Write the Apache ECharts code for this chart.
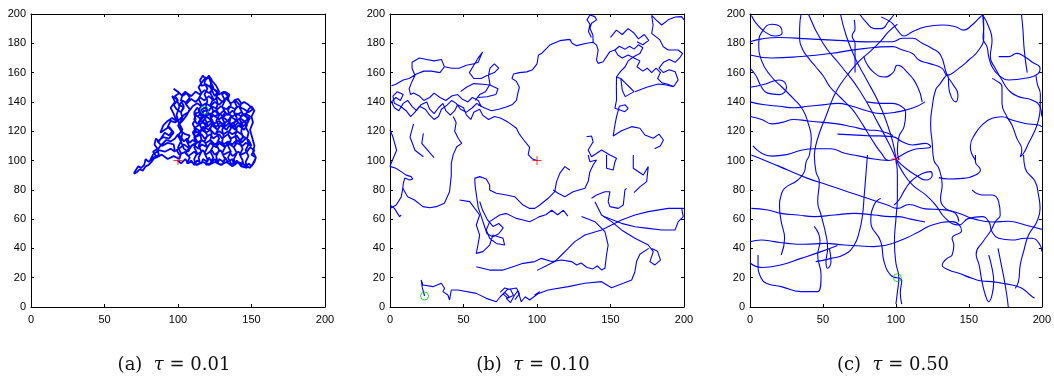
<!DOCTYPE html>
<html>
<head>
<meta charset="utf-8">
<script src="https://cdn.jsdelivr.net/npm/echarts@6/dist/echarts.min.js"></script>
<style>
html, body { margin: 0; padding: 0; background: #fff; }
#chart { width: 1054px; height: 377px; }
</style>
</head>
<body>
<div id="chart"></div>
<script>
// Axis ticks shared by the three panels
const xTicks = [0, 50, 100, 150, 200];
const yTicks = [0, 20, 40, 60, 80, 100, 120, 140, 160, 180, 200];

// Panel captions
const panelTags = ['(a)', '(b)', '(c)'];
const tauValues = ['0.01', '0.10', '0.50'];

// Start (+) and end (o) of each trajectory
const startPoints = [[100, 100], [100, 100], [100, 101]];
const endPoints = [[118, 134.5], [23.5, 7.5], [101, 20]];

// (a) tau = 0.01 : one tight, heavily tangled walk
const walkA = [
  [100,100],[102,98],[105,101],[107,98],[109,100],[111,97],[113,100],[116,98],[117,101],[120,99],[121,102],[123,99],[125,101],[127,98],[128,101],[131,99],[132,102],[134,99],[137,101],[138,97],[140,100],[143,96],[144,99],[146,95],[148,98],[150,96],[152,99],[153,102],[150,104],[152,107],[149,109],[147,106],[143,104],[141,106],[137,103],[135,106],[131,104],[129,107],[125,104],[123,107],[119,104],[117,107],[113,104],[111,106],[107,103],[105,106],[101,104],[99,107],[102,109],[104,111],[108,108],[110,111],[114,108],[116,111],[120,109],[122,112],[126,109],[128,112],[132,109],[134,112],[138,109],[140,112],[144,110],[146,112],[150,110],[148,114],[145,116],[142,114],[140,117],[136,115],[134,118],[130,115],[128,118],[124,115],[122,118],[118,115],[116,118],[112,116],[110,119],[112,122],[115,120],[117,123],[121,121],[123,124],[127,121],[129,124],[133,121],[135,124],[139,121],[141,124],[145,121],[147,124],[145,127],[142,129],[140,127],[136,130],[134,127],[130,130],[128,128],[124,131],[122,128],[118,131],[116,128],[112,131],[111,128],[113,125],[116,127],[118,125],[122,127],[124,125],[128,127],[130,125],[134,127],[136,125],[140,127],[142,125],[146,127],[149,130],[146,132],[143,130],[140,132],[137,130],[134,132],[131,130],[128,132],[125,130],[122,132],[119,130],[116,132],[113,130],[111,133],[113,136],[115,134],[118,136],[121,134],[123,137],[127,135],[129,137],[133,135],[135,137],[139,135],[141,137],[145,135],[148,133],[151,135],[148,138],[145,140],[142,138],[139,141],[136,139],[133,142],[130,140],[127,143],[124,141],[121,144],[118,141],[115,143],[112,140],[109,142],[106,139],[103,141],[101,138],[104,136],[102,133],[99,135],[97,138],[100,141],[98,144],[101,146],[97,149],[100,147],[103,144],[106,146],[109,144],[112,147],[115,145],[118,148],[121,146],[124,149],[127,147],[125,144],[122,150],[119,152],[116,151],[115,155],[117,158],[119,155],[121,158],[123,155],[122,151],[125,148],[128,145],[131,147],[134,144],[131,141],[128,138],[125,140],[122,137],[119,139],[116,137],[113,139],[110,137],[107,133],[104,131],[101,128],[98,126],[95,127],[93,123],[96,120],[94,117],[91,119],[89,116],[87,113],[85,115],[84,111],[86,108],[83,106],[85,103],[82,101],[80,99],[78,101],[77,97],[75,95],[73,96],[71,93],[70,91],[72,92],[74,94],[76,93],[78,96],[80,97],[82,99],[84,102],[87,104],[86,107],[88,110],[90,112],[92,114],[95,113],[98,115],[100,118],[102,116],[104,113],[106,115],[108,112],[110,114],[113,112],[116,114],[119,112],[122,114],[125,111],[128,113],[131,111],[134,113],[137,111],[140,114],[143,112],[146,115],[143,118],[140,120],[137,118],[134,120],[131,118],[128,120],[125,118],[122,121],[119,119],[116,121],[113,119],[111,122],[114,124],[117,126],[120,123],[123,126],[126,123],[129,126],[132,123],[135,126],[138,123],[141,126],[144,123],[147,126],[149,129],[146,130],[143,133],[140,131],[137,134],[134,131],[131,134],[128,131],[125,134],[122,131],[119,134],
  [111,132],[112,128],[110,125],[112,121],[111,117],[113,113],[111,109],[113,105],[111,101],[112,97],
  [115,98],[114,102],[116,106],[114,110],[116,114],[115,118],[116,122],[114,126],[116,130],[114,134],[116,138],[114,142],[116,146],[114,150],[116,153],
  [119,157],[118,153],[120,149],[118,145],[120,141],[119,137],[120,133],[118,129],[120,125],[118,121],[120,117],[118,113],[120,109],[118,105],[120,101],[119,97],
  [122,98],[124,102],[122,106],[124,110],[122,114],[123,118],[122,122],[124,126],[122,130],[124,134],[122,138],[124,142],[122,146],[124,150],[122,154],[121,157],
  [126,151],[128,147],[126,143],[127,139],[126,135],[128,131],[126,127],[128,123],[126,119],[128,115],[126,111],[128,107],[126,103],[127,98],
  [130,97],[132,101],[130,105],[132,109],[130,113],[131,117],[130,121],[132,125],[130,129],[132,133],[130,137],[132,141],[130,145],[132,147],
  [135,145],[134,142],[136,138],[134,134],[136,130],[135,126],[136,122],[134,118],[136,114],[134,110],[136,106],[134,102],[136,98],
  [139,97],[138,101],[140,105],[138,109],[140,113],[139,117],[140,121],[138,125],[140,129],[138,133],[140,137],[138,141],[141,142],
  [143,139],[142,136],[144,132],[142,128],[144,124],[143,120],[144,116],[142,112],[144,108],[142,104],[144,100],[143,96],
  [147,95],[146,99],[148,103],[146,107],[148,111],[147,115],[148,119],[146,123],[148,127],[146,131],[148,135],[150,137],
  [152,134],[150,130],[151,126],[149,121],[152,110],[151,106],[153,102],[151,98],[149,95],
  [145,97],[141,99],[137,96],[133,99],[129,97],[125,99],[121,97],[117,99],[113,97],[109,99],[106,98],
  [108,102],[105,105],[108,109],[106,113],[108,117],[105,118],[102,120],[100,124],[103,127],
  [106,131],[108,135],[105,139],[108,143],[105,147],[103,145],[102,141],[104,137],[102,133],[103,129],[101,125],[103,121],[100,117],[102,113],[100,109],[102,105],[101,101],
  [97,103],[93,101],[89,104],[85,102],[81,100],[83,104],[87,107],[91,106],[95,108],[98,106],[97,111],[93,112],[89,110],[86,113],[90,116],[94,115],[97,119],[94,123],[91,121],[88,119],[90,124],[93,127],[96,129],[99,127],[97,132],[95,136],[98,140],[96,144],[99,142],[101,137],[99,131],[101,124],[103,119],[102,113],[104,108],
  [107,106],[109,110],[112,112],[111,116],[114,118],[116,121],[119,123],[117,127],[119,129],[116,131],[118,134.5]
];

// (b) tau = 0.10 : wandering walk, drawn as consecutive pieces
const walkB = [
  [[100,100],[97,101],[94,104],[95,109],[91,114],[88,118],[86,122],[82,125],[79,127],[75,129],[71,130],[67,128],[63,131],[61,135],[57,133],[55,128],[52,131],[50,136],[46,138],[44,134],[41,131],[38,134],[36,139],[33,136],[30,132],[27,135],[25,140],[21,138],[18,134],[15,137],[12,141],[9,139],[6,134],[3,136],[1,140],[4,143],[7,141],[9,145],[5,147],[2,144],[3,139],[7,137],[11,134],[14,130],[17,133],[20,137],[24,135],[27,131],[30,128],[33,130],[35,135],[39,138],[42,141],[45,139],[48,135],[52,133],[56,136],[59,139],[62,137],[60,141],[56,143],[53,140],[49,142],[46,145],[42,144],[38,141],[34,143],[30,146],[27,143],[23,141],[20,144],[16,146],[14,145],[13,149],[15,154],[17,158],[15,163],[15,167],[20,170],[25,169],[30,168],[35,169],[37,164],[34,160],[28,161],[23,161],[18,159],[13,156],[9,155],[4,152],[1,151]],
  [[37,164],[42,163],[47,163],[52,165],[57,166],[60,167],[62,172],[63,174],[60,170],[57,165],[54,160],[57,156],[62,156],[66,158],[71,160],[74,163],[71,166],[68,163],[67,158],[68,152],[65,147],[61,145],[58,141]],
  [[101,172],[100,166],[97,162],[93,160.5],[88,160],[84,159],[83,156],[86,154],[88,150],[87,146],[86,141],[83,138],[79,136.5],[74,135],[69,134],[64,136],[60,138]],
  [[48,147],[52,150],[57,152.5],[63,152],[68,151.5],[73.5,149],[72,145],[66,143.5],[60,143]],
  [[0,121],[2,116],[4.5,107],[2,101],[0,96],[4,94.7],[7.6,92.4],[11,90],[14.4,89],[15.5,87.4],[13.3,86.7],[10,88],[9,84],[8.7,81],[7.6,75],[4.2,69.6],[0,67.3]],
  [[16,125],[13.6,116],[17,107],[22.7,102.6]],
  [[22.7,118.5],[21.6,111.7],[27.3,105],[30,102]],
  [[0,69.6],[3,67.3],[6.5,61.7],[7.6,62.8]],
  [[8.7,81],[12,75.3],[16.7,73],[22.4,68.5],[27,67.8],[31.4,68.5],[37,70.8],[40.5,78.7],[41.7,90],[41.7,98],[43,104],[45.4,109.4],[48.8,111.7],[46.5,115],[44,120],[45,126],[43,130]],
  [[101,172],[103,173],[108.7,178.8],[115.5,181.8],[122.3,182.7],[123.9,180],[126.9,178.4],[133.7,180],[138.2,180.7],[140.5,178.8],[141.6,175.4],[140.5,168.6],[141.6,166.3],[145,167.4],[147.3,170.9],[149.6,174.3],[153,175.4],[155,172],[158,170],[162,172],[166,170],[170,168],[168,164],[172,161],[175,163],[178,160],[181,163],[184,160],[182,156],[185,153],[189,152],[193,150.5],[196,155],[194,160.6],[190,162],[186,160],[183,163],[186,167],[190,169],[194,167],[197,170],[199,173],[196,175.4],[193.9,175.4],[189.3,175.4],[185.9,177.7],[183.6,182.3],[178,186.8],[179,192.5],[178,199],[181,196],[184.8,192.5],[189.3,196],[194,198],[198.4,198.2],[200,196]],
  [[138.2,180.7],[138,185.7],[136,190.3],[137.1,193.7],[140.5,196],[139.4,198.2],[136,199.3],[134,196],[136,193],[135,188],[137,184]],
  [[153,175.4],[156,178],[160,176],[163,178],[166,176],[169,179],[172,177],[170,173],[166,171],[162,168],[160,164],[157,161],[154,157],[157,156],[160,153],[163,150],[166,147],[160,143.6],[158,148],[157,156]],
  [[150,184],[154,189],[158,186],[162,190],[166,187],[169,183],[173,186],[176,182],[172,179],[168,181]],
  [[154.1,157.2],[154,150],[154.1,141.3],[153,135.6],[156.4,134.5],[159.8,133.3],[162,135.6],[160,138],[156,137],[154.1,130],[153,124.2],[151.8,116.7],[157.5,120.3],[164.4,123.1],[170,122],[173.4,117.4],[179.1,115.2],[183,118],[186,114],[184,110],[180,108]],
  [[166.6,147],[174.6,150],[182.5,152.2],[188.2,151.5],[192.7,150.4]],
  [[133.7,116.2],[137.1,116.7],[138.2,112.8],[134.8,107.2],[137.1,102.6],[143.9,107.2],[149.6,103.8],[154.1,101.5],[153,99],[151.8,93.5],[147.3,94.7],[147.3,103.75]],
  [[134.8,103.75],[136,99.2],[140.5,100.3],[138.2,96.9],[136,92.4],[134.8,85.6],[132.6,81],[124.6,78.7],[118.9,75.3],[114.4,77.6],[111,79.9]],
  [[122.3,93.5],[118.9,95.8],[115.5,91.2],[113.3,85.6],[112.1,78.7],[107.6,74.2],[101.9,69.6],[98.5,67.3],[95,67.3],[90.5,69.6],[84.8,75.3],[79.1,76.5],[72.3,77.6],[67.8,79.9],[67.8,83.3],[65.5,87.4],[61,89],[57.6,87.8]],
  [[165.5,103.75],[165.5,94.7],[172.3,90.1],[175.7,95.8],[174.6,85.6],[170,82],[166,78]],
  [[137.1,74.2],[140.5,76.5],[146.2,78.7],[149.6,78.7],[148.4,71.9],[149.6,68.5],[155.3,67.3],[158.7,69.6],[159.8,79.9],[160.9,81]],
  [[139.4,71.9],[143.9,62.8],[150.7,58.3],[157.5,52.6],[166.6,46.9],[175.7,42.3],[179.1,37.8],[176.8,31],[180.2,28.7],[184,32],[182,38],[178,40]],
  [[200,67.3],[189.3,67.3],[175.7,65.1],[166.6,62.8],[157.5,59.4],[150.7,56],[143.9,52.6],[132.6,49.1],[125.7,44.6],[121.2,40],[116.7,35.5],[112.1,31],[106,28],[100,25]],
  [[198.4,67.3],[199.5,61.7],[196.1,58.25],[193.9,52.6],[184.8,52.6],[175.7,53.7],[166.6,54.8],[157.5,57.1],[150,60],[145,62]],
  [[130.3,61.7],[139.4,58.25],[146.2,51.4],[148.4,42.3],[147.3,35.5],[146.2,26.4],[143.9,25.3],[141,28],[138,26],[134,27],[130,30],[127,28.7],[123.5,31],[116.7,32.1],[109.9,31],[103,33.2],[98.5,31]],
  [[98.5,8.2],[107.6,11.6],[121.2,13.9],[132.6,16.2],[143.9,17.3],[150.7,13.2],[158.7,16.2],[164.4,18.4],[166.6,24.1],[167.7,31],[170,36],[176,40]],
  [[47.3,73],[54.2,71.9],[61,62.8],[58.7,56],[61,49.1],[59.8,42.3],[58.7,36.6],[63.2,37.8],[67.8,42.3],[70,49.1],[76.9,46.9],[78,42.3],[72.3,43.4],[67.8,46.9],[65.5,52.6],[67.8,58.25],[74.6,62.8],[79.1,63.9],[85.9,60.5],[90.5,59.4],[95,58.25],[99.5,60.5],[101.8,61.7],[106,63],[110,66],[114,63],[118,66],[121,62]],
  [[57.6,87.8],[58,82],[59,75],[60,68],[62,62],[64,56],[66,50],[70,48],[74,50],[77,54],[74,57],[70,55],[66,60],[63,66],[61,72]],
  [[58.7,27.5],[67.8,25.2],[76.9,25.2],[83.7,27.5],[90.5,29.8],[98.5,31]],
  [[75,10],[78,13],[82,12],[84,8],[80,6],[77,9],[80,12],[86,13],[88,9],[85,5]],
  [[98.5,8.2],[101.8,10.5],[99.5,8.2],[95,4.8],[92,7],[89.3,3.6],[87,11],[84.8,8.2],[82,3],[79.1,5.9],[81,7],[78,10],[75,7],[72.3,3.6],[65.5,5.9],[58.7,9.3],[46.2,11.6],[41.7,11.6],[40.5,4.8],[39.4,8.2],[36,10.5],[37.1,12.75],[34.9,16.2],[29.2,13.9],[22.4,15],[21.2,18.4],[22,13],[23.5,7.5]]
];

// (c) tau = 0.50 : long, smooth excursions across the whole box
const walkC = [
  [[90,198],[94,196],[97.6,193.6],[101,189],[105.6,185],[111.3,187.9],[120.4,191.3],[131.7,192.5],[140.8,191.3],[146.5,189],[152.2,192.5],[156.8,197],[159.5,199.3],[160.2,191.3],[159.7,183.4],[162.4,177.7],[163.6,170.9],[165.9,164],[170.4,158.3],[177.2,154.9],[188.6,156.1],[197.7,159.5],[198.8,162.9],[193.1,167.4],[186.3,172],[182.9,173.1],[177.2,170.9],[170.4,170.9]],
  [[159.5,199.3],[163.6,191.3],[165.9,182.2],[164.7,170.9],[168.1,162.9],[172.7,155],[177.2,148.1],[184,143.6],[193.1,141.3],[198.8,136.7],[200,130]],
  [[0,181],[8,183],[20,184],[40,183],[60,182],[80,181],[97.6,181.1],[104.4,183.4],[111.3,183.4],[118.1,180],[124.9,176.5],[130.6,172],[135.1,158.3],[139,152],[142.5,145],[141,140],[137,146],[135.1,158.3],[130,152],[127.2,148.1],[124.9,136.7],[123.8,125.3],[124.9,111.7],[126,100.3],[129.4,94.7],[131.7,83.3],[130.6,74.2],[134,67.3],[140.8,63.9],[143.1,58.25]],
  [[0,172],[15,170],[35,171],[55,173],[75,176],[97.6,177.7],[104.4,175.4],[111.3,173.1],[115.8,168.6],[122.6,166.3],[131.7,162.9],[135.1,158.3],[143.1,162.9],[149.9,168.6],[156.8,175.4],[160.2,184.5],[159.5,199.3]],
  [[80,140],[90,139],[97.6,139],[102.1,137.9],[106.7,132.2],[105.6,123.1],[102.1,116.3],[101,107.2],[102.1,100.3]],
  [[60,118],[80,117],[97.6,116.3],[104.4,112.8],[111.3,110.6],[120.4,111.7],[123.8,109.4],[111.3,107.2],[102.1,102.6],[100,101]],
  [[165.9,156],[168.1,154.9],[172.7,150.4],[172.7,139],[176.1,129.9],[179.5,124.2],[182.9,115.1],[186.3,107.2],[185.2,102.6],[187.5,104.9],[190.9,111.7],[195.4,120.8],[197.7,127.6],[198.8,134.5],[199,145],[197,152],[196,158]],
  [[154.5,100.3],[151,109.4],[154.5,118.5],[160.2,125.3],[165.9,128.8],[172.7,129.9],[179.5,127.6],[188.6,125.3],[197.7,124.2],[200,123]],
  [[100,101],[106.7,94.7],[113.5,90.1],[120.4,86.7],[124.9,90.1],[123.8,92.4],[118.1,91.2],[111.3,86.7],[106.7,81],[102.1,73],[98.7,69.6]],
  [[100,101],[104.4,92.4],[111.3,83.3],[120.4,76.5],[127.2,69.6],[134,60.5],[143.1,56],[149.9,60.5],[159,61.7],[163.6,58.25],[165.9,51.4],[170.4,46.9],[179.5,45.7],[188.6,46.9],[193.1,46.9],[198.8,42.3],[200,37.8]],
  [[154.5,103.75],[154.5,99.2],[157.9,93.5],[154.5,90.1],[145.4,87.8],[136.3,87.4],[129.4,88.3]],
  [[186,200],[187,190],[188,175],[190,160]],
  [[187.5,103.75],[188.6,94.7],[195.4,85.6],[197.7,76.5],[198.8,67.3],[196.6,58.25],[190.9,49.1],[187.5,37.8],[185.2,28.7],[184,17.3],[181.8,12.75]],
  [[152.2,79.9],[159,76.5],[165.9,76.5],[170.4,71.9],[171.5,62.8],[168.1,58.25],[165,52],[160,45],[155,36],[157,28.7],[159,17.3],[161.3,8.2],[163.6,3.6],[165.9,8.2],[167,17.3],[165.9,26.4],[163.6,35.5]],
  [[97.6,43.4],[106.7,46.9],[115.8,51.4],[124.9,56],[138.5,58.25],[145,52],[138.5,46.9],[139.7,42.3],[138.5,35.5],[135.1,33.2],[131.7,28.7],[136.3,25.3],[143.1,23],[152.2,19.6],[159,17.7],[165.9,17.3],[172.7,16.2],[179.5,15],[186.3,12.75],[192,8.2],[195,6]],
  [[170,40],[172,30],[174,20],[176,8],[177,0]],
  [[0.9,103.75],[12.3,99.2],[25.9,93.5],[39.6,87.8],[53.2,83.3],[66.9,78.7],[80.5,74.2],[94.2,69.6],[101,67.3],[109,70],[120,67],[132,66.5],[143,64],[154,60],[166,58],[177,58.5],[188.6,56],[200,53]],
  [[0.9,67.3],[12.3,66.2],[21.4,63.9],[32.8,62.8],[44.1,61.7],[57.8,62.8],[71.4,63.9],[85,62.8],[96.4,61.7],[101,61.7],[110,60],[120,58]],
  [[0,44.6],[7.7,45.7],[16.8,44.6],[25.9,43.4],[37.3,42.8],[51,43.4],[64.6,42.3],[73.8,41.8],[85,41.2],[97.6,43.4]],
  [[21.4,35.5],[23.7,46.9],[21.4,58.25],[20.2,69.6],[21.4,76.5],[23.7,81],[32.8,86.7],[37.3,92.4],[38.5,99.2],[40.7,103.75],[42,115],[40,125],[36,135],[30,142],[22,150],[14,158],[8,168],[6,180],[9,189],[15,193],[21,191],[22,187],[17,185],[10,188],[4,194],[1,199]],
  [[44.1,103.75],[45.2,92.4],[47.5,85.6],[46.4,71.9],[48.7,62.8],[52.1,49.1],[53.2,40],[52.1,30.9],[53.2,26.4],[55.5,30.9],[54.4,40]],
  [[80.5,103.75],[79.4,90.1],[78.3,76.5],[77.1,62.8],[74.9,51.4],[71.4,42.3],[65,36],[55,33],[45,31]],
  [[89.6,74.2],[85,69.6],[82.8,58.25],[89.6,44.6],[91.9,30.9],[96.4,21.8],[101,20]],
  [[5.5,35.5],[5.5,28.7],[7.7,19.6],[11.1,16.2],[21.4,13.9],[35,10.5],[46.4,10.5],[48.7,21.8],[46.4,35.5],[48,45],[44,55]],
  [[0,30],[8,27],[21,28.7],[35,33.2],[48.7,37.8],[60,42]],
  [[62,200],[66,185],[72,170],[80,155],[88,140],[94,125],[98,112],[100,101],[101,90],[101,75],[100,60],[99,45],[100,30],[102,20],[101,10],[100,2]],
  [[40,200],[50,180],[62,165],[75,148],[88,125],[96,110],[100,101]],
  [[35,200],[34,190],[34,183],[36,176],[40,170],[45,164],[50,158],[55,150],[60,145],[65,140],[70,135],[75,128],[80,120],[85,112],[90,105],[95,100],[100,101]],
  [[71.5,196],[72,190],[70,185],[72,180],[72,170],[72,160]],
  [[75,200],[80,194],[85,190],[90,190],[95,195],[99,200]],
  [[101,193],[95,188],[90,182],[83,175],[75,168],[68,160],[62,152],[58,145],[55,138],[52,130],[48,120],[45,110],[44.1,103.75]],
  [[0,140],[10,138],[20,137],[30,136],[40,137],[50,138],[60,139],[70,137],[80,134],[90,132],[100,133],[112,136],[120,140]],
  [[0,130],[8,128],[15,125],[22,126],[30,128],[40,127],[50,126],[60,125],[70,123],[80,121],[90,120],[98,117]],
  [[0,150],[10,152],[20,155],[25,150],[20,145],[12,146],[8,150],[4,158],[0,163]],
  [[78,171],[80,166],[85,160],[92,157],[98,160],[101,165],[108,160],[115,150],[118,140]],
  [[2,110],[8,105],[15,103],[25,104],[35,107],[45,108],[55,108],[65,105],[75,103],[85,101],[95,100]],
  [[104,2],[103,10],[104,18],[101,20]]
];

const panelLeft = [31, 390, 750];
const panelTop = 14;
const panelWidth = 294;
const panelHeight = 293;
const blue = '#0000ff';

const tickFont = { color: '#000', fontSize: 11, fontFamily: 'Liberation Sans, Arial, sans-serif' };
const axisLineStyle = { color: '#000', width: 1 };

const grids = [], xAxes = [], yAxes = [], series = [];
const xMin = xTicks[0], xMax = xTicks[xTicks.length - 1], xStep = xTicks[1] - xTicks[0];
const yMin = yTicks[0], yMax = yTicks[yTicks.length - 1], yStep = yTicks[1] - yTicks[0];

panelLeft.forEach((left, i) => {
  grids.push({ left: left, top: panelTop, width: panelWidth, height: panelHeight, show: false });
  const xBase = { type: 'value', gridIndex: i, min: xMin, max: xMax, interval: xStep, splitLine: { show: false },
    axisLine: { show: true, onZero: false, lineStyle: axisLineStyle },
    axisTick: { show: true, inside: true, length: 3, lineStyle: axisLineStyle } };
  const yBase = { type: 'value', gridIndex: i, min: yMin, max: yMax, interval: yStep, splitLine: { show: false },
    axisLine: { show: true, onZero: false, lineStyle: axisLineStyle },
    axisTick: { show: true, inside: true, length: 3, lineStyle: axisLineStyle } };
  xAxes.push(Object.assign({}, xBase, { position: 'bottom', axisLabel: Object.assign({ margin: 7 }, tickFont) }));
  xAxes.push(Object.assign({}, xBase, { position: 'top', axisLabel: { show: false } }));
  yAxes.push(Object.assign({}, yBase, { position: 'left', axisLabel: Object.assign({ margin: 5 }, tickFont) }));
  yAxes.push(Object.assign({}, yBase, { position: 'right', axisLabel: { show: false } }));
});

function addPath(panel, points, width, smooth) {
  series.push({
    type: 'line', xAxisIndex: panel * 2, yAxisIndex: panel * 2,
    data: points, showSymbol: false, smooth: smooth, silent: true,
    lineStyle: { color: blue, width: width }, z: 2
  });
}

addPath(0, walkA, 1.8, false);
walkB.forEach(p => addPath(1, p, 1.1, false));
walkC.forEach(p => addPath(2, p, 1.1, 0.5));

startPoints.forEach((pt, i) => {
  series.push({
    type: 'scatter', xAxisIndex: i * 2, yAxisIndex: i * 2, data: [pt], silent: true, z: 5,
    symbol: 'path://M0,5L10,5M5,0L5,10', symbolSize: 9,
    itemStyle: { color: 'rgba(0,0,0,0)', borderColor: '#ff0000', borderWidth: 1 }
  });
});
endPoints.forEach((pt, i) => {
  series.push({
    type: 'scatter', xAxisIndex: i * 2, yAxisIndex: i * 2, data: [pt], silent: true, z: 5,
    symbol: 'circle', symbolSize: 8,
    itemStyle: { color: 'rgba(0,0,0,0)', borderColor: '#00cc00', borderWidth: 1 }
  });
});

const captions = panelLeft.map((left, i) => ({
  type: 'text',
  x: left + panelWidth / 2 - 4,
  y: 365,
  style: {
    text: panelTags[i] + '  {t|\u03c4} = ' + tauValues[i],
    font: '18px "DejaVu Serif", "Liberation Serif", serif',
    fill: '#111',
    align: 'center',
    verticalAlign: 'middle',
    rich: { t: { fontStyle: 'italic', fontFamily: 'DejaVu Serif', fontSize: 18, fill: '#111' } }
  }
}));

const chart = echarts.init(document.getElementById('chart'), null, { renderer: 'canvas' });
chart.setOption({
  animation: false,
  backgroundColor: '#fff',
  grid: grids,
  xAxis: xAxes,
  yAxis: yAxes,
  series: series,
  graphic: captions
});
</script>
</body>
</html>
